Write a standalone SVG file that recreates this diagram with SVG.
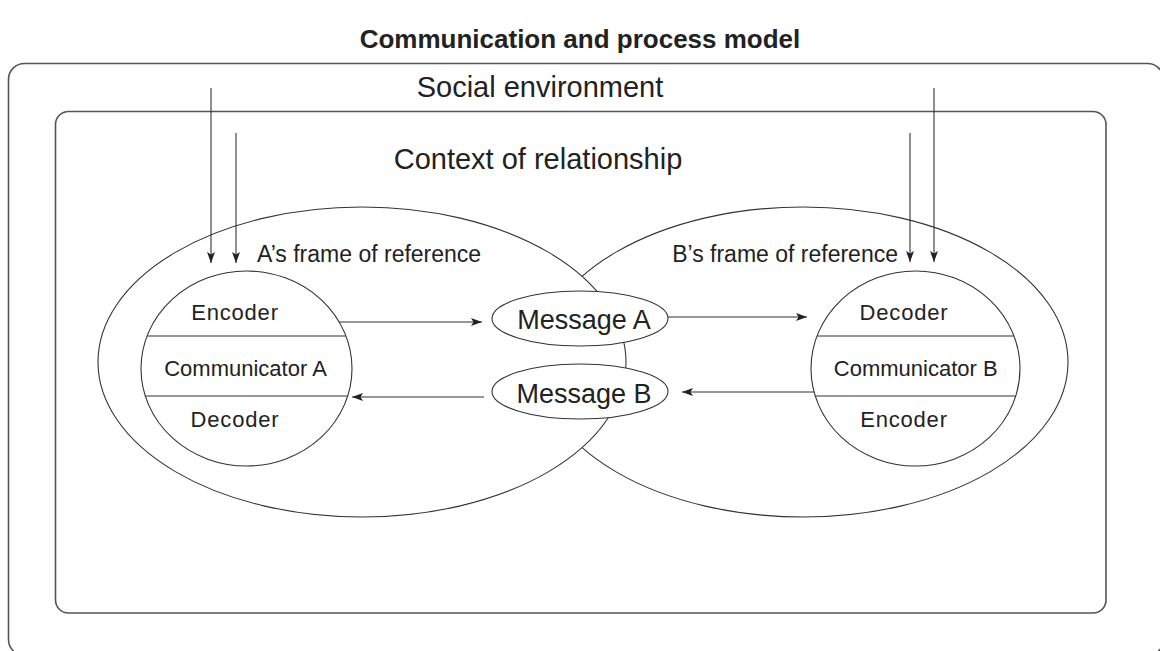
<svg xmlns="http://www.w3.org/2000/svg" width="1160" height="651" viewBox="0 0 1160 651">
<style>
.box{fill:none;stroke:#555;stroke-width:1.6}
.shape{fill:#fff;stroke:#333;stroke-width:1.1}
.div{stroke:#333;stroke-width:1.1}
.con{stroke:#333;stroke-width:1.1;fill:none;marker-end:url(#ah)}
text{font-family:"Liberation Sans",Arial,sans-serif;fill:#222}
.big{font-size:29px}
.frame{font-size:23px}
.cell{font-size:22px;text-anchor:middle}
.msg{font-size:27px;text-anchor:middle}
</style>
<defs>
<marker id="ah" markerUnits="userSpaceOnUse" markerWidth="12" markerHeight="10" refX="11" refY="4" orient="auto">
<path d="M0,0 L11,4 L0,8 L2.5,4 Z" fill="#222"/>
</marker>
</defs>
<rect width="1160" height="651" fill="#fff"/>
<text x="580" y="48" style="font-size:26px;font-weight:bold;text-anchor:middle">Communication and process model</text>
<g id="social-environment">
<rect class="box" x="8.5" y="63.5" width="1155" height="592" rx="16"/>
<text class="big" x="540" y="97" text-anchor="middle">Social environment</text>
</g>
<g id="context-of-relationship">
<rect class="box" x="55.5" y="111.5" width="1050.5" height="501.5" rx="13"/>
<text class="big" x="538" y="169" text-anchor="middle">Context of relationship</text>
</g>
<g id="frame-b">
<ellipse class="shape" cx="803" cy="362" rx="265" ry="155"/>
</g>
<g id="frame-a">
<ellipse class="shape" cx="362" cy="362" rx="264" ry="155"/>
<text class="frame" x="257" y="262">A’s frame of reference</text>
</g>
<g id="frame-b-label">
<text class="frame" x="898" y="262" text-anchor="end">B’s frame of reference</text>
</g>
<g id="communicator-a">
<ellipse class="shape" cx="246.5" cy="368.5" rx="105.5" ry="97.5"/>
<line class="div" x1="147" y1="336" x2="346" y2="336"/>
<line class="div" x1="145.3" y1="396" x2="347.7" y2="396"/>
<text class="cell" x="235" y="320" letter-spacing="0.8">Encoder</text>
<text class="cell" x="245.5" y="376">Communicator A</text>
<text class="cell" x="235" y="427" letter-spacing="0.8">Decoder</text>
</g>
<g id="communicator-b">
<ellipse class="shape" cx="915.5" cy="368.5" rx="104.5" ry="97.5"/>
<line class="div" x1="817" y1="336" x2="1014" y2="336"/>
<line class="div" x1="815.3" y1="396" x2="1015.7" y2="396"/>
<text class="cell" x="904" y="320" letter-spacing="0.8">Decoder</text>
<text class="cell" x="915.7" y="376">Communicator B</text>
<text class="cell" x="904" y="427" letter-spacing="0.8">Encoder</text>
</g>
<g id="message-a">
<ellipse class="shape" cx="580" cy="318.5" rx="88" ry="27.5"/>
<text class="msg" x="584" y="329">Message A</text>
</g>
<g id="message-b">
<ellipse class="shape" cx="580" cy="391.5" rx="88" ry="27.5"/>
<text class="msg" x="584" y="402.5">Message B</text>
</g>
<g id="connectors">
<line class="con" x1="211" y1="88" x2="211" y2="263"/>
<line class="con" x1="236" y1="133" x2="236" y2="263"/>
<line class="con" x1="910" y1="133" x2="910" y2="262"/>
<line class="con" x1="934" y1="88" x2="934" y2="262"/>
<line class="con" x1="339" y1="322" x2="482" y2="322"/>
<line class="con" x1="668" y1="317" x2="807" y2="317"/>
<line class="con" x1="814" y1="392" x2="682" y2="392"/>
<line class="con" x1="484" y1="397" x2="352" y2="397"/>
</g>
</svg>
